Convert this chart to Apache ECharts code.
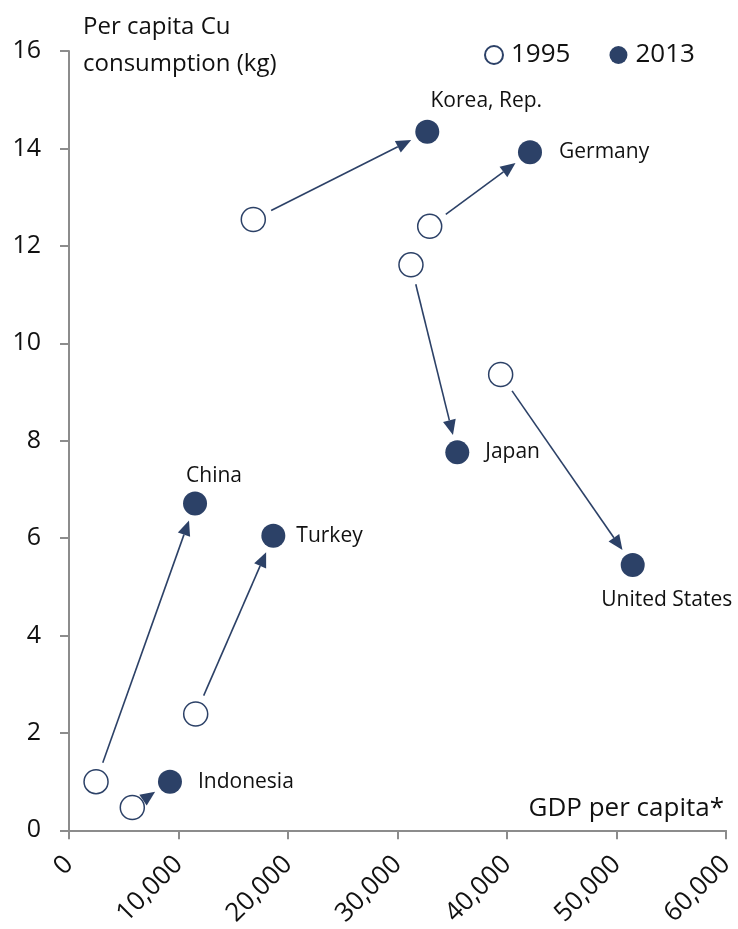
<!DOCTYPE html>
<html>
<head>
<meta charset="utf-8">
<script src="https://cdn.jsdelivr.net/npm/echarts@6/dist/echarts.min.js"></script>
<style>
  html, body { margin: 0; padding: 0; background: #fff; }
  #chart { width: 738px; height: 929px; }
</style>
</head>
<body>
<div id="chart"></div>
<script>
// countries, GDP per capita and Cu use per capita (kg)
var countries = ['Korea, Rep.', 'Germany', 'Japan', 'United States', 'China', 'Turkey', 'Indonesia'];
var gdp1995 = [16830, 32940, 31230, 39420, 2470, 11570, 5780];
var cu1995  = [12.54, 12.40, 11.61, 9.36, 1.00, 2.39, 0.47];
var gdp2013 = [32720, 42100, 35460, 51480, 11510, 18660, 9220];
var cu2013  = [14.34, 13.92, 7.76, 5.45, 6.71, 6.05, 1.00];
var xTicks = [0, 10000, 20000, 30000, 40000, 50000, 60000];
var yTicks = [0, 2, 4, 6, 8, 10, 12, 14, 16];

var navy = '#2c4167';
var textColor = '#111';
var axisGray = '#8c8c8c';
var font = 'Open Sans';

// where each country's name sits next to its 2013 dot
var labelPlace = {
    'Korea, Rep.':   {position: 'top', distance: 8, offset: [59, 0]},
    'Germany':       {position: 'right', distance: 17},
    'Japan':         {position: 'right', distance: 16},
    'United States': {position: 'bottom', distance: 13, offset: [34, 0]},
    'China':         {position: 'top', distance: 5, offset: [19, 0]},
    'Turkey':        {position: 'right', distance: 11},
    'Indonesia':     {position: 'right', distance: 16}
};

var START_GAP = 20, END_GAP = 18, HEAD_LEN = 15, HEAD_HALF = 6.5;

function renderArrow(params, api){
    var p1 = api.coord([api.value(0), api.value(1)]);
    var p2 = api.coord([api.value(2), api.value(3)]);
    var dx = p2[0] - p1[0], dy = p2[1] - p1[1];
    var len = Math.sqrt(dx * dx + dy * dy);
    var ux = dx / len, uy = dy / len;
    var nx = -uy, ny = ux;
    var tip = [p2[0] - ux * END_GAP, p2[1] - uy * END_GAP];
    var hl = Math.min(HEAD_LEN, len - 13 - END_GAP);
    var base = [tip[0] - ux * hl, tip[1] - uy * hl];
    var start = [p1[0] + ux * START_GAP, p1[1] + uy * START_GAP];
    var children = [];
    if(len - START_GAP - END_GAP > hl){
        children.push({
            type: 'line',
            shape: {x1: start[0], y1: start[1], x2: base[0], y2: base[1]},
            style: {stroke: navy, lineWidth: 1.6}
        });
    }
    children.push({
        type: 'polygon',
        shape: {points: [tip,
            [base[0] + nx * HEAD_HALF, base[1] + ny * HEAD_HALF],
            [base[0] - nx * HEAD_HALF, base[1] - ny * HEAD_HALF]]},
        style: {fill: navy}
    });
    return {type: 'group', children: children};
}

var arrowData = [];
var data1995 = [];
var data2013 = [];
for(var i = 0; i < countries.length; i++){
    arrowData.push([gdp1995[i], cu1995[i], gdp2013[i], cu2013[i]]);
    data1995.push([gdp1995[i], cu1995[i]]);
    var lp = labelPlace[countries[i]];
    data2013.push({
        name: countries[i],
        value: [gdp2013[i], cu2013[i]],
        label: {
            show: true,
            position: lp.position,
            distance: lp.distance,
            offset: lp.offset || [0, 0]
        }
    });
}

var myChart = echarts.init(document.getElementById('chart'));
var option = {
    animation: false,
    backgroundColor: '#fff',
    title: [{
        text: 'Per capita Cu\nconsumption (kg)',
        left: 78,
        top: 4,
        textStyle: {fontFamily: font, fontSize: 24, fontWeight: 'normal', color: textColor, lineHeight: 37}
    }, {
        text: 'GDP per capita*',
        right: 9,
        top: 789,
        textStyle: {fontFamily: font, fontSize: 26, fontWeight: 'normal', color: textColor, lineHeight: 30}
    }],
    legend: {
        left: 479,
        top: 37,
        itemWidth: 18,
        itemHeight: 18,
        itemGap: 39,
        icon: 'circle',
        data: ['1995', '2013'],
        textStyle: {fontFamily: font, fontSize: 26, color: textColor, padding: [0, 0, 0, 3]}
    },
    grid: {left: 69, right: 12, top: 51, bottom: 98, containLabel: false},
    xAxis: {
        type: 'value',
        min: xTicks[0],
        max: xTicks[xTicks.length - 1],
        interval: 10000,
        splitLine: {show: false},
        axisLine: {lineStyle: {color: axisGray, width: 2}},
        axisTick: {show: true, length: 9, lineStyle: {color: axisGray, width: 2}},
        axisLabel: {
            rotate: 45,
            margin: 30,
            fontFamily: font,
            fontSize: 26,
            color: textColor,
            formatter: function(v){ return v.toLocaleString('en-US'); }
        }
    },
    yAxis: {
        type: 'value',
        min: yTicks[0],
        max: yTicks[yTicks.length - 1],
        interval: 2,
        splitLine: {show: false},
        axisLine: {show: true, lineStyle: {color: axisGray, width: 2}},
        axisTick: {show: true, length: 9, lineStyle: {color: axisGray, width: 2}},
        axisLabel: {margin: 28, fontFamily: font, fontSize: 25, color: textColor}
    },
    series: [{
        type: 'custom',
        coordinateSystem: 'cartesian2d',
        renderItem: renderArrow,
        encode: {x: [0, 2], y: [1, 3]},
        data: arrowData,
        z: 1,
        silent: true
    }, {
        name: '1995',
        type: 'scatter',
        symbol: 'circle',
        symbolSize: 24,
        itemStyle: {color: '#fff', borderColor: navy, borderWidth: 1.5, opacity: 1},
        data: data1995,
        z: 2
    }, {
        name: '2013',
        type: 'scatter',
        symbol: 'circle',
        symbolSize: 24,
        itemStyle: {color: navy, opacity: 1},
        label: {
            fontFamily: font,
            fontSize: 21,
            color: textColor,
            formatter: '{b}'
        },
        data: data2013,
        z: 2
    }]
};
myChart.setOption(option);
</script>
</body>
</html>
